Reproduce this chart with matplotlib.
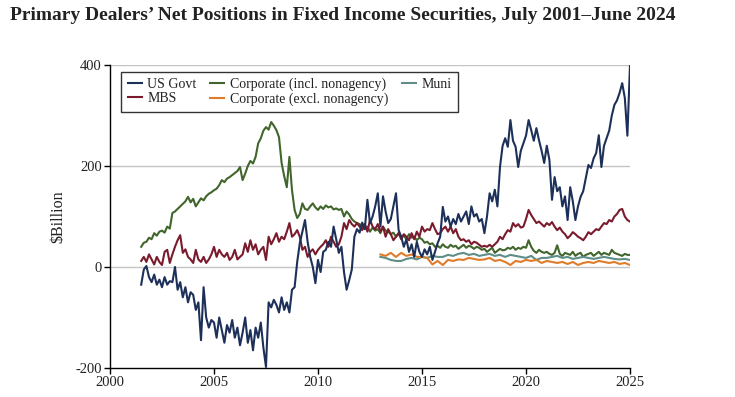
import numpy as np
import matplotlib
matplotlib.use("Agg")
import matplotlib.pyplot as plt

# ---------------- data ($ billion) ----------------
# common grid for the long series: 1/8-year steps, mid-2001 .. 2025
years_long = np.arange(2001.5, 2025.0001, 0.125)

us_govt = [
    -35, -5, 2, -20,
    -30, -15, -35, -25, -40, -20, -35, -28,
    -30, 0, -45, -30, -60, -40, -70, -50,
    -55, -85, -70, -145, -40, -100, -120, -105,
    -110, -140, -100, -125, -150, -115, -130, -105,
    -140, -120, -155, -130, -100, -150, -125, -165,
    -120, -140, -110, -160, -198, -70, -80, -65,
    -75, -90, -60, -85, -70, -90, -45, -40,
    10, 47, 70, 93, 50, 20, 0, -32,
    14, -10, 30, 34, 50, 40, 80, 55,
    28, 40, -10, -45, -26, -5, 60, 75,
    68, 88, 75, 133, 87, 100, 120, 146,
    80, 140, 110, 87, 95, 120, 146, 73,
    60, 40, 55, 30, 45, 20, 50, 30,
    20, 35, 25, 40, 14, 30, 47, 60,
    119, 90, 100, 80, 95, 85, 105, 90,
    100, 110, 85, 120, 100, 105, 90, 95,
    67, 100, 146, 130, 153, 120, 198, 240,
    255, 238, 291, 250, 238, 198, 230, 245,
    260, 291, 271, 250, 275, 251, 230, 206,
    240, 212, 133, 178, 150, 158, 120, 140,
    93, 158, 130, 93, 120, 139, 150, 176,
    202, 196, 215, 226, 261, 198, 240, 255,
    270, 300, 321, 330, 345, 364, 335, 260,
    400,
]

mbs = [
    12, 20, 10, 25,
    15, 5, 20, 10, 4, 30, 34, 8,
    25, 40, 53, 63, 28, 35, 20, 15,
    8, 34, 15, 10, 20, 8, 15, 25,
    40, 20, 34, 25, 20, 28, 14, 20,
    34, 15, 20, 25, 47, 30, 53, 34,
    45, 25, 34, 40, 14, 60, 45, 55,
    67, 50, 60, 55, 70, 87, 60, 65,
    73, 60, 34, 40, 20, 30, 35, 25,
    34, 40, 45, 53, 40, 60, 50, 40,
    45, 60, 87, 75, 93, 85, 80, 87,
    80, 73, 85, 70, 93, 80, 75, 85,
    70, 80, 60, 75, 65, 53, 60, 67,
    55, 65, 60, 53, 67, 55, 70, 60,
    80, 70, 75, 73, 87, 75, 65, 67,
    75, 80, 70, 80, 67, 75, 60, 53,
    55, 50, 53, 45, 50, 48, 44, 40,
    42, 40, 44, 40, 45, 50, 60, 55,
    65, 73, 70, 87, 80, 85, 78, 80,
    95, 113, 103, 95, 87, 90, 85, 80,
    87, 83, 89, 80, 73, 78, 70, 65,
    57, 62, 69, 65, 60, 57, 53, 60,
    69, 65, 70, 75, 73, 80, 87, 85,
    93, 90, 100, 105, 113, 115, 100, 93,
    90,
]

corp_incl = [
    40, 48, 50, 58,
    55, 67, 62, 70, 72, 68, 80, 76,
    107, 110, 115, 120, 125, 130, 139, 128,
    135, 120, 128, 136, 132, 140, 145, 148,
    152, 155, 162, 172, 168, 175, 178, 182,
    186, 190, 198, 172, 185, 200, 210, 205,
    218, 245, 255, 270, 277, 272, 287, 280,
    271, 257, 206, 180, 158, 218, 152, 113,
    97, 105, 126, 115, 113, 120, 126, 118,
    113, 120, 115, 122, 118, 120, 114, 116,
    113, 115, 100, 110, 104, 95, 90, 87,
    85, 80, 75, 80, 70, 78, 72, 75,
    67, 80, 72, 70, 65, 68, 60, 67,
    60, 62, 55, 65, 58, 60, 53, 58,
    55, 48, 50, 45, 47, 40, 42, 38,
    45, 40, 38, 44, 40, 42, 36, 40,
    44, 38, 42, 40, 36, 40, 38, 34,
    36, 30, 34, 38, 28, 32, 36, 33,
    34, 38, 36, 40, 34, 38, 36, 40,
    38, 53, 40, 32, 28, 34, 30, 28,
    30, 26, 24, 28, 43, 26, 22, 28,
    26, 24, 30, 22, 26, 28, 20, 24,
    26, 28, 22, 26, 30, 24, 28, 26,
    24, 34, 28, 26, 24, 22, 26, 24,
    24,
]

# shorter series start in 2013: quarterly grid
years_short = np.arange(2013.0, 2025.0001, 0.25)

corp_excl = [
    25, 22, 28, 20,
    28, 22, 25, 20,
    20, 18, 5, 12,
    4, 14, 12, 15,
    14, 18, 16, 14,
    15, 18, 12, 14,
    10, 4, 12, 10,
    14, 12, 14, 8,
    12, 10, 8, 10,
    6, 10, 4, 8,
    10, 8, 12, 10,
    8, 10, 6, 8,
    4,
]

muni = [
    20, 18, 14, 12,
    12, 16, 18, 15,
    20, 18, 22, 20,
    20, 24, 22, 26,
    28, 24, 26, 22,
    24, 26, 22, 24,
    20, 24, 22, 20,
    18, 22, 14, 18,
    18, 20, 22, 18,
    20, 16, 18, 20,
    18, 16, 18, 20,
    18, 16, 15, 16,
    14,
]

series_names = ["US Govt", "MBS", "Corporate (incl. nonagency)",
                "Corporate (excl. nonagency)", "Muni"]
x_ticks = [2000, 2005, 2010, 2015, 2020, 2025]
y_ticks = [-200, 0, 200, 400]

# ---------------- figure ----------------
plt.rcParams['font.family'] = ['Liberation Serif', 'DejaVu Serif']

fig = plt.figure(figsize=(7.35, 3.97), dpi=100)
ax = fig.add_axes([110/735, 1-368/397, 520/735, 303/397])

c_us = "#1d3059"
c_mbs = "#7a1b2d"
c_ci = "#41662c"
c_ce = "#e07b2a"
c_mu = "#5f8d87"
lw = 1.5

h_ci, = ax.plot(years_long, corp_incl, color=c_ci, lw=lw, zorder=3)
h_mbs, = ax.plot(years_long, mbs, color=c_mbs, lw=lw, zorder=4)
h_mu, = ax.plot(years_short, muni, color=c_mu, lw=lw, zorder=3)
h_ce, = ax.plot(years_short, corp_excl, color=c_ce, lw=lw, zorder=3)
h_us, = ax.plot(years_long, us_govt, color=c_us, lw=lw, zorder=5)

ax.set_xlim(2000, 2025)
ax.set_ylim(-200, 400)
ax.set_xticks(x_ticks)
ax.set_yticks(y_ticks)
ax.set_yticklabels([str(v) for v in y_ticks])
ax.tick_params(axis='both', direction='out', length=4, width=1,
               labelsize=10.5, color='black', labelcolor='#222222', pad=2)

for v in [0, 200, 400]:
    ax.axhline(v, color='#c4c4c4', lw=1, zorder=1)

ax.spines['top'].set_visible(False)
ax.spines['right'].set_visible(False)
ax.spines['left'].set_color('black')
ax.spines['bottom'].set_color('black')
ax.spines['left'].set_linewidth(1)
ax.spines['bottom'].set_linewidth(1)

ax.set_ylabel("$Billion", fontsize=11.5, color='#222222', labelpad=6)

leg = ax.legend([h_us, h_mbs, h_ci, h_ce, h_mu], series_names,
                loc='upper left', bbox_to_anchor=(0.022, 0.978), ncol=3,
                fontsize=10, frameon=True, fancybox=False, edgecolor='black',
                handlelength=1.0, handletextpad=0.4, columnspacing=1.0,
                labelspacing=0.05, borderpad=0.45, borderaxespad=0)
leg.get_frame().set_linewidth(1)
for t in leg.get_texts():
    t.set_color('#222222')

fig.text(10/735, 1-15/397, "Primary Dealers\u2019 Net Positions in Fixed Income Securities, July 2001\u2013June 2024",
         fontsize=14, fontweight='bold', ha='left', va='center', color='#222222')

fig.savefig("out.png", dpi=100)
